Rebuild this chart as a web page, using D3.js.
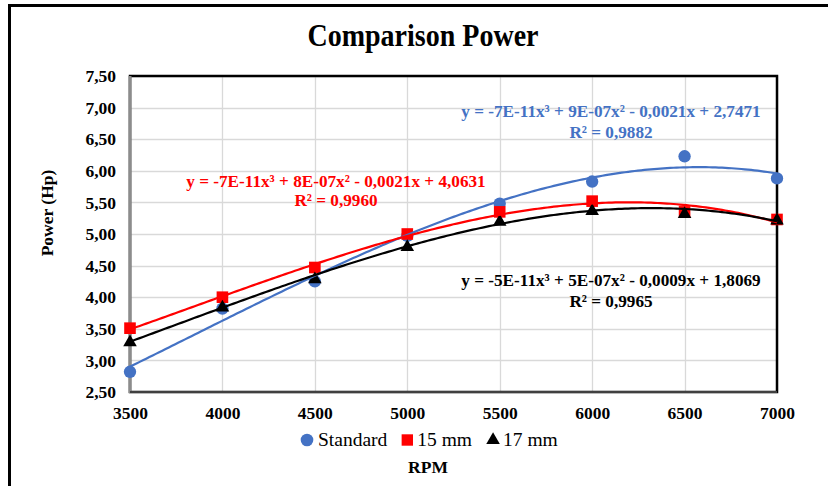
<!DOCTYPE html>
<html>
<head>
<meta charset="utf-8">
<script src="https://cdn.jsdelivr.net/npm/d3@7"></script>
<style>
  html, body { margin: 0; padding: 0; background: #fff; }
  svg { display: block; }
  text { font-family: "Liberation Serif", "Times New Roman", serif; }
</style>
</head>
<body>
<div id="chart"></div>
<script>
// ---- data ----
const rpm = [3500, 4000, 4500, 5000, 5500, 6000, 6500, 7000];
const standard = [2.82, 3.82, 4.25, 4.97, 5.48, 5.83, 6.23, 5.88];
const mm15 = [3.51, 4.00, 4.47, 5.00, 5.35, 5.52, 5.35, 5.23];
const mm17 = [3.30, 3.85, 4.30, 4.81, 5.21, 5.38, 5.33, 5.23];
const seriesNames = ["Standard", "15 mm", "17 mm"];
const seriesColors = ["#4472C4", "#FF0000", "#000000"];
const equations = [
  "y = -7E-11x\u00B3 + 9E-07x\u00B2 - 0,0021x + 2,7471",
  "y = -7E-11x\u00B3 + 8E-07x\u00B2 - 0,0021x + 4,0631",
  "y = -5E-11x\u00B3 + 5E-07x\u00B2 - 0,0009x + 1,8069"
];
const rSquared = ["R\u00B2 = 0,9882", "R\u00B2 = 0,9960", "R\u00B2 = 0,9965"];
const xTicks = [3500, 4000, 4500, 5000, 5500, 6000, 6500, 7000];
const yTicks = [2.5, 3.0, 3.5, 4.0, 4.5, 5.0, 5.5, 6.0, 6.5, 7.0, 7.5];
const titleText = "Comparison Power";
const xTitle = "RPM";
const yTitle = "Power (Hp)";

// ---- layout ----
const W = 828, H = 486;
const plot = { left: 130, right: 777, top: 76, bottom: 392 };

const svg = d3.select("#chart").append("svg").attr("width", W).attr("height", H);

// outer chart frame (only top and left visible in the crop)
svg.append("path")
  .attr("d", `M9.5,${H} L9.5,5.5 L${W},5.5`)
  .attr("fill", "none").attr("stroke", "#000").attr("stroke-width", 3);

const x = d3.scaleLinear().domain([3500, 7000]).range([plot.left, plot.right]);
const y = d3.scaleLinear().domain([2.5, 7.5]).range([plot.bottom, plot.top]);

// gridlines
const grid = svg.append("g");
grid.selectAll("line.h").data(yTicks).join("line")
  .attr("x1", plot.left).attr("x2", plot.right)
  .attr("y1", d => Math.round(y(d)) + 0.5).attr("y2", d => Math.round(y(d)) + 0.5)
  .attr("stroke", "#d9d9d9").attr("stroke-width", 1.3);
grid.selectAll("line.v").data(xTicks).join("line")
  .attr("y1", plot.top).attr("y2", plot.bottom)
  .attr("x1", d => Math.round(x(d)) + 0.5).attr("x2", d => Math.round(x(d)) + 0.5)
  .attr("stroke", "#d9d9d9").attr("stroke-width", 1.3);

// plot border
svg.append("rect")
  .attr("x", plot.left).attr("y", plot.top)
  .attr("width", plot.right - plot.left).attr("height", plot.bottom - plot.top)
  .attr("fill", "none").attr("stroke", "#000").attr("stroke-width", 2.5);
// left axis (gray) and bottom axis
svg.append("line").attr("x1", plot.left).attr("x2", plot.left)
  .attr("y1", plot.top).attr("y2", plot.bottom + 1)
  .attr("stroke", "#8c8c8c").attr("stroke-width", 3);
svg.append("line").attr("x1", plot.left).attr("x2", plot.right)
  .attr("y1", plot.bottom).attr("y2", plot.bottom)
  .attr("stroke", "#404040").attr("stroke-width", 2);

// axes with labels
const fmtY = d => d.toFixed(2).replace(".", ",");
const yAxis = svg.append("g").attr("transform", `translate(${plot.left},0)`)
  .call(d3.axisLeft(y).tickValues(yTicks).tickFormat(fmtY).tickSize(0).tickPadding(14));
yAxis.select(".domain").remove();
yAxis.selectAll("text")
  .attr("font-family", "Liberation Serif, serif")
  .attr("font-size", 17.5).attr("font-weight", "bold").attr("fill", "#000");

const xAxis = svg.append("g").attr("transform", `translate(0,${plot.bottom})`)
  .call(d3.axisBottom(x).tickValues(xTicks).tickFormat(d => String(d)).tickSize(0).tickPadding(15));
xAxis.select(".domain").remove();
xAxis.selectAll("text")
  .attr("font-family", "Liberation Serif, serif")
  .attr("font-size", 17.5).attr("font-weight", "bold").attr("fill", "#000");

// title
svg.append("text")
  .attr("x", 423).attr("y", 46).attr("text-anchor", "middle")
  .attr("font-size", 31).attr("font-weight", "bold")
  .attr("textLength", 231).attr("lengthAdjust", "spacingAndGlyphs")
  .text(titleText);

// axis titles
svg.append("text")
  .attr("transform", "translate(53,213) rotate(-90)")
  .attr("text-anchor", "middle").attr("font-size", 17.5).attr("font-weight", "bold")
  .text(yTitle);
svg.append("text")
  .attr("x", 428).attr("y", 473).attr("text-anchor", "middle")
  .attr("font-size", 17.5).attr("font-weight", "bold")
  .text(xTitle);

// ---- cubic least-squares trendlines computed from the data ----
function polyfit(xs, ys, deg) {
  const cx = 5250, sc = 1000;
  const n = deg + 1;
  const A = Array.from({ length: n }, () => new Array(n + 1).fill(0));
  xs.forEach((xv, k) => {
    const t = (xv - cx) / sc;
    for (let i = 0; i < n; i++) {
      for (let j = 0; j < n; j++) A[i][j] += Math.pow(t, i + j);
      A[i][n] += Math.pow(t, i) * ys[k];
    }
  });
  for (let i = 0; i < n; i++) {
    let p = i;
    for (let r = i + 1; r < n; r++) if (Math.abs(A[r][i]) > Math.abs(A[p][i])) p = r;
    [A[i], A[p]] = [A[p], A[i]];
    for (let r = 0; r < n; r++) {
      if (r === i) continue;
      const f = A[r][i] / A[i][i];
      for (let c = i; c <= n; c++) A[r][c] -= f * A[i][c];
    }
  }
  const coef = A.map((row, i) => row[n] / row[i]);
  return xv => { const t = (xv - cx) / sc; return coef.reduce((s, c, i) => s + c * Math.pow(t, i), 0); };
}

const allSeries = [standard, mm15, mm17];
const sampleX = d3.range(3500, 7000.1, 17.5);

// markers
const markerSym = [d3.symbolCircle, d3.symbolSquare, d3.symbolTriangle];
const markerSize = [120, 135, 80];
allSeries.forEach((vals, si) => {
  svg.append("g").selectAll("path").data(vals).join("path")
    .attr("transform", (d, i) => `translate(${x(rpm[i])},${y(d) + (si === 2 ? 1 : 0)})`)
    .attr("d", d3.symbol().type(markerSym[si]).size(markerSize[si]))
    .attr("fill", seriesColors[si]);
});

// trendlines
allSeries.forEach((vals, si) => {
  const f = polyfit(rpm, vals, 3);
  svg.append("path")
    .datum(sampleX)
    .attr("d", d3.line().x(d => x(d)).y(d => y(f(d))))
    .attr("fill", "none").attr("stroke", seriesColors[si]).attr("stroke-width", 2.2);
});

// equation labels
const eqPos = [[611, 117, 138], [336, 187, 206], [611, 286, 307]];
allSeries.forEach((vals, si) => {
  const [cx, y1, y2] = eqPos[si];
  const g = svg.append("g").attr("fill", seriesColors[si])
    .attr("font-size", 17.2).attr("font-weight", "bold").attr("text-anchor", "middle");
  g.append("text").attr("x", cx).attr("y", y1).text(equations[si]);
  g.append("text").attr("x", cx).attr("y", y2).text(rSquared[si]);
});

// legend
const legend = svg.append("g");
let lx = 301;
const ly = 440;
seriesNames.forEach((name, si) => {
  legend.append("path")
    .attr("transform", `translate(${lx + 6},${ly + (si === 2 ? 0 : 0)})`)
    .attr("d", d3.symbol().type(markerSym[si]).size(si === 0 ? 125 : si === 1 ? 130 : 80))
    .attr("fill", seriesColors[si]);
  const t = legend.append("text")
    .attr("x", lx + 12 + (si === 0 ? 5 : 4)).attr("y", ly + 6)
    .attr("font-size", 19.5).attr("fill", "#000").text(name);
  const w = t.node().getComputedTextLength();
  lx = lx + 12 + 4 + w + 15;
});
</script>
</body>
</html>
